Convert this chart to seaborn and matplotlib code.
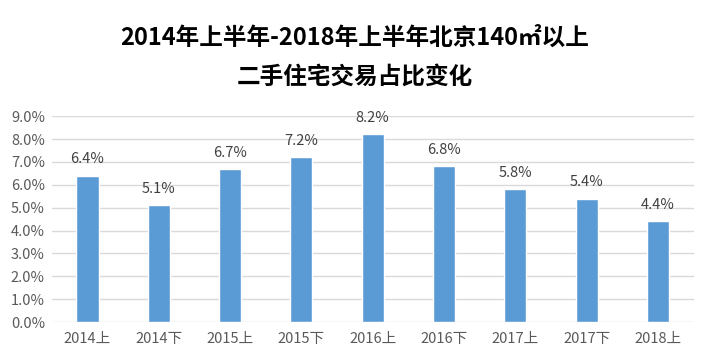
import matplotlib
matplotlib.use('Agg')
import matplotlib.pyplot as plt
import seaborn as sns
import pandas as pd

periods = ['2014上', '2014下', '2015上', '2015下', '2016上', '2016下', '2017上', '2017下', '2018上']
share = [6.4, 5.1, 6.7, 7.2, 8.2, 6.8, 5.8, 5.4, 4.4]
title_lines = ['2014年上半年-2018年上半年北京140㎡以上', '二手住宅交易占比变化']

sns.set_style('white')
plt.rcParams['font.family'] = ['Noto Sans CJK SC', 'DejaVu Sans']

df = pd.DataFrame({'period': periods, 'share': share})

fig = plt.figure(figsize=(7.1, 3.64), dpi=100)
ax = fig.add_axes([0.073, 0.115, 0.904, 0.566])

sns.barplot(data=df, x='period', y='share', color='#5b9bd5', saturation=1,
            width=0.31, ax=ax, zorder=3)

ax.set_ylim(0, 9)
ax.set_yticks(range(0, 10))
ax.set_yticklabels([f'{v:.1f}%' for v in range(0, 10)])
ax.yaxis.grid(True, color='#d9d9d9', linewidth=1, zorder=0)
ax.set_axisbelow(True)
for s in ax.spines.values():
    s.set_visible(False)
ax.tick_params(axis='both', length=0, colors='#595959', labelsize=10.5)
ax.tick_params(axis='x', pad=7)
ax.tick_params(axis='y', pad=5)
ax.set_xlabel('')
ax.set_ylabel('')

for i, v in enumerate(share):
    ax.text(i, v + 0.4, f'{v:.1f}%', ha='center', va='bottom', fontsize=10.5, color='#404040')

fig.text(0.5, 0.897, title_lines[0], ha='center', va='center', fontsize=17, fontweight='bold', color='black')
fig.text(0.5, 0.79, title_lines[1], ha='center', va='center', fontsize=17, fontweight='bold', color='black')

fig.savefig('out.png', dpi=100)
plt.close(fig)
